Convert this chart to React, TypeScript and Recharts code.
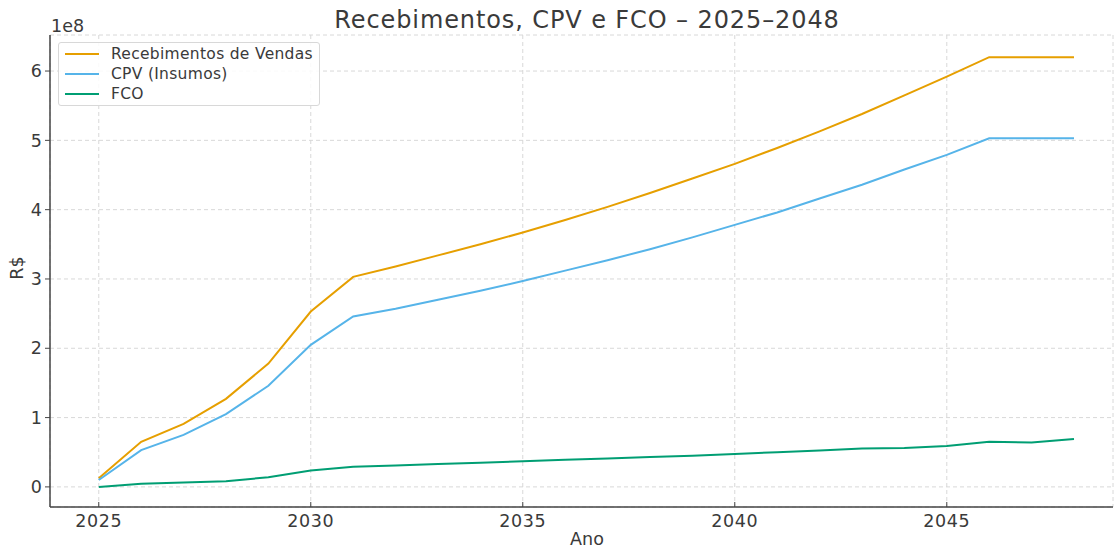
import { LineChart, Line, XAxis, YAxis, CartesianGrid } from "recharts"

// valores em R$ milhões
const anos = [2025, 2026, 2027, 2028, 2029, 2030, 2031, 2032, 2033, 2034, 2035, 2036, 2037, 2038, 2039, 2040, 2041, 2042, 2043, 2044, 2045, 2046, 2047, 2048]
const recebimentos = [12.5, 65, 91, 127, 178, 253, 303, 318, 334, 350, 367, 385, 404, 424, 445, 466, 489, 513, 538, 565, 592, 620, 620, 620]
const cpv = [10, 53, 75, 105, 146, 205, 246, 257, 270, 283, 297, 312, 327, 343, 360, 378, 396, 416, 436, 458, 479, 503, 503, 503]
const fco = [0, 4.5, 6.5, 8, 14, 23.5, 29, 31, 33, 35, 37, 39, 41, 43, 45, 47.5, 50, 52.5, 55.5, 56, 59, 65, 64, 69]

const xTicks = [2025, 2030, 2035, 2040, 2045]
const yTicks = [0, 1e8, 2e8, 3e8, 4e8, 5e8, 6e8]

const series = [
  { key: "rec", name: "Recebimentos de Vendas", color: "#E69F00" },
  { key: "cpv", name: "CPV (Insumos)", color: "#56B4E9" },
  { key: "fco", name: "FCO", color: "#009E73" },
]

const data = anos.map((ano, i) => ({
  ano,
  rec: recebimentos[i] * 1e6,
  cpv: cpv[i] * 1e6,
  fco: fco[i] * 1e6,
}))

const font = "'DejaVu Sans', sans-serif"
const textColor = "#3a3a3a"
const tickFont = 17.5

function LegendBox() {
  return (
    <div style={{
      position: "absolute", left: 58, top: 42,
      border: "1px solid #d8d8d8", borderRadius: 3, background: "rgba(255,255,255,0.85)",
      padding: "1px 6px 1px 6px", fontFamily: font, fontSize: 15.5, color: textColor, lineHeight: "20px",
      letterSpacing: 0.3,
    }}>
      {series.map(s => (
        <div key={s.key} style={{ display: "flex", alignItems: "center" }}>
          <span style={{ display: "inline-block", width: 34, height: 2, background: s.color, marginRight: 12 }} />
          {s.name}
        </div>
      ))}
    </div>
  )
}

export default function App() {
  return (
    <div style={{ position: "absolute", left: 0, top: 0, width: 1115, height: 548, background: "#fff", fontFamily: font }}>
      <LineChart width={1115} height={548} data={data} margin={{ top: 35, right: 2, bottom: 0, left: 0 }}>
        <CartesianGrid stroke="#d8d8d8" strokeDasharray="4 3" />
        <XAxis
          dataKey="ano" type="number" domain={[2023.85, 2048.92]} ticks={xTicks} allowDataOverflow
          height={41} tickSize={-5} tickMargin={13}
          tick={{ fontSize: tickFont, fill: textColor, fontFamily: font, letterSpacing: 0.6 }}
          axisLine={{ stroke: "#444", strokeWidth: 1.5 }} tickLine={{ stroke: "#444" }}
        />
        <YAxis
          type="number" domain={[-0.29e8, 6.52e8]} ticks={yTicks} allowDataOverflow
          width={50} tickSize={5} tickMargin={3}
          tickFormatter={(v: number) => String(Math.round(v / 1e8))}
          tick={{ fontSize: tickFont, fill: textColor, fontFamily: font }}
          axisLine={{ stroke: "#444", strokeWidth: 1.5 }} tickLine={{ stroke: "#444" }}
        />
        {series.map(s => (
          <Line key={s.key} type="linear" dataKey={s.key} name={s.name} stroke={s.color}
            strokeWidth={2} dot={false} isAnimationActive={false} />
        ))}
      </LineChart>
      <LegendBox />
      <svg width={1115} height={548} style={{ position: "absolute", left: 0, top: 0, pointerEvents: "none" }}>
        <text x={587} y={28} textAnchor="middle" fontSize={24} fill={textColor} fontFamily={font} letterSpacing={0.9}>
          Recebimentos, CPV e FCO – 2025–2048
        </text>
        <text x={51} y={32} fontSize={tickFont} fill={textColor} fontFamily={font}>1e8</text>
        <text x={587} y={545} textAnchor="middle" fontSize={tickFont} fill={textColor} fontFamily={font}>Ano</text>
        <text x={23} y={268} textAnchor="middle" fontSize={tickFont} fill={textColor} fontFamily={font}
          transform="rotate(-90 23 268)">R$</text>
      </svg>
    </div>
  )
}
